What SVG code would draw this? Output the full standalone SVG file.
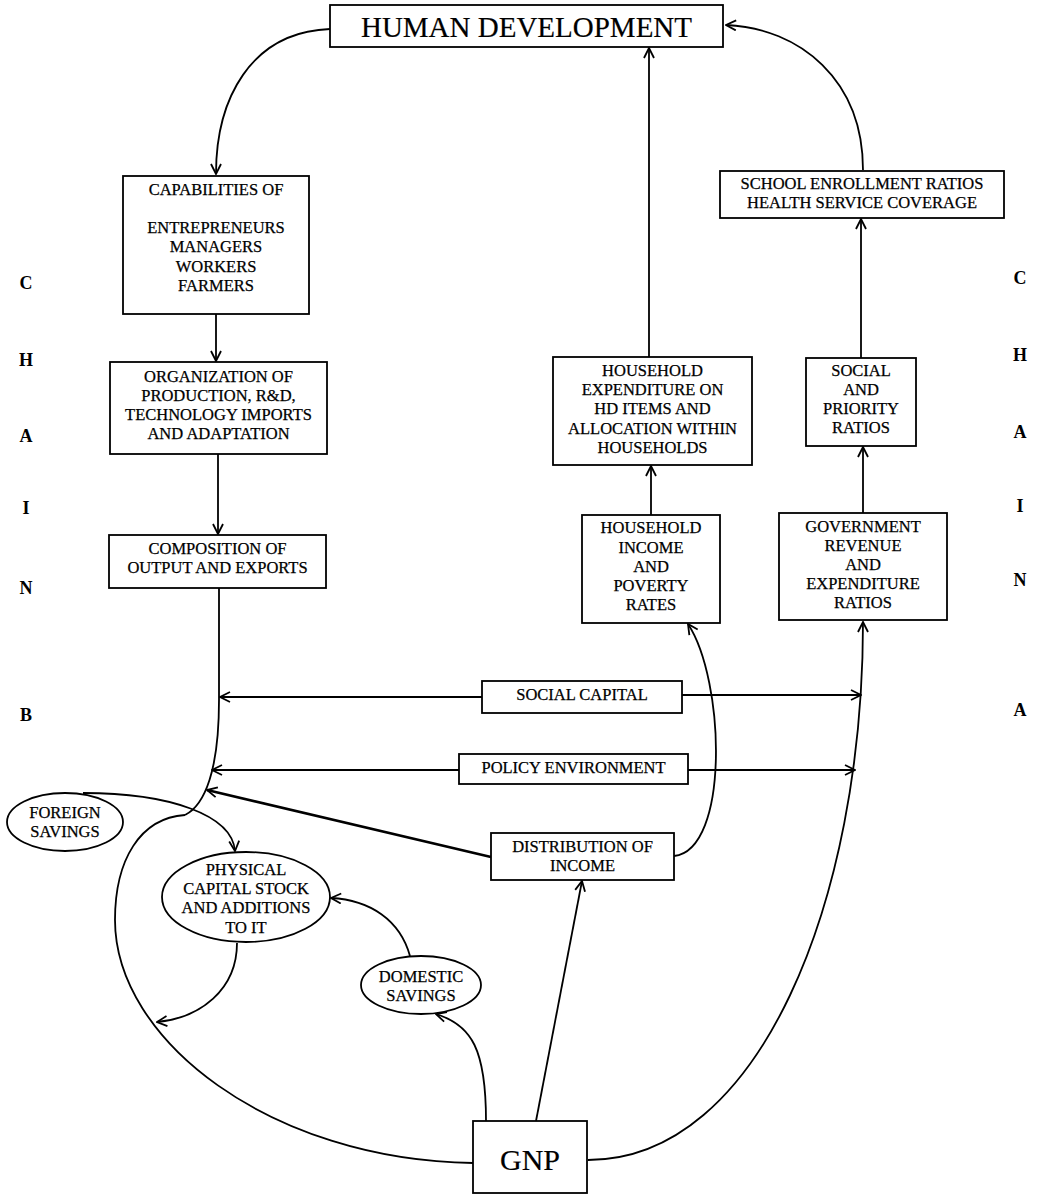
<svg xmlns="http://www.w3.org/2000/svg" width="1039" height="1200" viewBox="0 0 1039 1200">
<style>
.box{fill:#fff;stroke:#000;stroke-width:1.8}
.t{font-family:"Liberation Serif","Times New Roman",serif;font-size:16.5px;text-anchor:middle;fill:#000;stroke:#000;stroke-width:0.25}
.big{font-size:29px;stroke-width:0.2}
.gnp{font-size:30px;stroke-width:0.2}
.ch{font-family:"Liberation Serif","Times New Roman",serif;font-size:18px;font-weight:bold;text-anchor:middle;fill:#000}
.c{fill:none;stroke:#000;stroke-width:1.8}
.a{marker-end:url(#ah)}
</style>
<defs>
<marker id="ah" viewBox="0 0 12 12" refX="11" refY="6" markerWidth="12" markerHeight="12" markerUnits="userSpaceOnUse" orient="auto">
<path d="M1,1 L11,6 L1,11" fill="none" stroke="#000" stroke-width="1.8"/>
</marker>
</defs>

<g id="connectors">
<path class="c a" d="M330,29 C250,32 216,100 216,174"/>
<path class="c a" d="M863,170 C863,80 800,28 726,25"/>
<path class="c a" d="M649,357 L649,48"/>
<path class="c a" d="M216,314 L216,361"/>
<path class="c a" d="M218,454 L218,534"/>
<path class="c a" d="M651,515 L651,466"/>
<path class="c a" d="M863,513 L863,447"/>
<path class="c a" d="M861,358 L861,219"/>
<path class="c" d="M219,588 L219,700 C219,770 205,805 185,815"/>
<path class="c" d="M473,1163 C270,1160 115,1040 115,920 C115,860 140,818 185,815"/>
<path class="c a" d="M482,697 L220,697"/>
<path class="c a" d="M682,695 L861,695"/>
<path class="c a" d="M459,770 L212,770"/>
<path class="c a" d="M688,770 L855,770"/>
<path class="c a" d="M491,857 L207,790" style="stroke-width:2.6"/>
<path class="c a" d="M588,1160 C760,1160 863,900 863,622"/>
<path class="c a" d="M674,856 C730,850 725,680 688,624"/>
<path class="c a" d="M536,1121 L582,881"/>
<path class="c a" d="M486,1121 C486,1050 472,1025 436,1014"/>
<path class="c a" d="M410,956 C400,920 370,900 331,898"/>
<path class="c a" d="M237,943 C237,990 200,1018 157,1022"/>
<path class="c a" d="M83,793 C170,793 232,815 235,851"/>
</g>

<g id="n-hd"><rect class="box" x="330" y="5" width="393" height="42"/><text class="t big" x="526.5" y="37">HUMAN DEVELOPMENT</text></g>

<g id="n-cap"><rect class="box" x="123" y="176" width="186" height="138"/>
<text class="t" x="216" y="195">CAPABILITIES OF</text>
<text class="t" x="216" y="233">ENTREPRENEURS</text>
<text class="t" x="216" y="252">MANAGERS</text>
<text class="t" x="216" y="272">WORKERS</text>
<text class="t" x="216" y="291">FARMERS</text></g>

<g id="n-org"><rect class="box" x="110" y="362" width="217" height="92"/>
<text class="t" x="218.5" y="382">ORGANIZATION OF</text>
<text class="t" x="218.5" y="401">PRODUCTION, R&amp;D,</text>
<text class="t" x="218.5" y="420">TECHNOLOGY IMPORTS</text>
<text class="t" x="218.5" y="439">AND ADAPTATION</text></g>

<g id="n-comp"><rect class="box" x="109" y="535" width="217" height="53"/>
<text class="t" x="217.5" y="554">COMPOSITION OF</text>
<text class="t" x="217.5" y="573">OUTPUT AND EXPORTS</text></g>

<g id="n-school"><rect class="box" x="720" y="171" width="284" height="47"/>
<text class="t" x="862" y="189">SCHOOL ENROLLMENT RATIOS</text>
<text class="t" x="862" y="208">HEALTH SERVICE COVERAGE</text></g>

<g id="n-hexp"><rect class="box" x="553" y="357" width="199" height="108"/>
<text class="t" x="652.5" y="376">HOUSEHOLD</text>
<text class="t" x="652.5" y="395">EXPENDITURE ON</text>
<text class="t" x="652.5" y="414">HD ITEMS AND</text>
<text class="t" x="652.5" y="434">ALLOCATION WITHIN</text>
<text class="t" x="652.5" y="453">HOUSEHOLDS</text></g>

<g id="n-social"><rect class="box" x="806" y="358" width="110" height="88"/>
<text class="t" x="861" y="376">SOCIAL</text>
<text class="t" x="861" y="395">AND</text>
<text class="t" x="861" y="414">PRIORITY</text>
<text class="t" x="861" y="433">RATIOS</text></g>

<g id="n-hinc"><rect class="box" x="582" y="515" width="138" height="108"/>
<text class="t" x="651" y="533">HOUSEHOLD</text>
<text class="t" x="651" y="553">INCOME</text>
<text class="t" x="651" y="572">AND</text>
<text class="t" x="651" y="591">POVERTY</text>
<text class="t" x="651" y="610">RATES</text></g>

<g id="n-gov"><rect class="box" x="779" y="513" width="168" height="107"/>
<text class="t" x="863" y="532">GOVERNMENT</text>
<text class="t" x="863" y="551">REVENUE</text>
<text class="t" x="863" y="570">AND</text>
<text class="t" x="863" y="589">EXPENDITURE</text>
<text class="t" x="863" y="608">RATIOS</text></g>

<g id="n-scap"><rect class="box" x="482" y="681" width="200" height="32"/>
<text class="t" x="582" y="700">SOCIAL CAPITAL</text></g>

<g id="n-policy"><rect class="box" x="459" y="754" width="229" height="30"/>
<text class="t" x="573.5" y="773">POLICY ENVIRONMENT</text></g>

<g id="n-dist"><rect class="box" x="491" y="833" width="183" height="47"/>
<text class="t" x="582.5" y="852">DISTRIBUTION OF</text>
<text class="t" x="582.5" y="871">INCOME</text></g>

<g id="n-foreign"><ellipse class="box" cx="65" cy="822" rx="58" ry="29"/>
<text class="t" x="65" y="818">FOREIGN</text>
<text class="t" x="65" y="837">SAVINGS</text></g>

<g id="n-physical"><ellipse class="box" cx="246" cy="897" rx="84" ry="45"/>
<text class="t" x="246" y="875">PHYSICAL</text>
<text class="t" x="246" y="894">CAPITAL STOCK</text>
<text class="t" x="246" y="913">AND ADDITIONS</text>
<text class="t" x="246" y="933">TO IT</text></g>

<g id="n-domestic"><ellipse class="box" cx="421" cy="985" rx="60" ry="29"/>
<text class="t" x="421" y="982">DOMESTIC</text>
<text class="t" x="421" y="1001">SAVINGS</text></g>

<g id="n-gnp"><rect class="box" x="473" y="1121" width="114" height="72"/>
<text class="t gnp" x="530" y="1170">GNP</text></g>

<g id="chain-left">
<text class="ch" x="26" y="289">C</text>
<text class="ch" x="26" y="366">H</text>
<text class="ch" x="26" y="442">A</text>
<text class="ch" x="26" y="514">I</text>
<text class="ch" x="26" y="594">N</text>
<text class="ch" x="26" y="721">B</text>
</g>
<g id="chain-right">
<text class="ch" x="1020" y="284">C</text>
<text class="ch" x="1020" y="361">H</text>
<text class="ch" x="1020" y="438">A</text>
<text class="ch" x="1020" y="512">I</text>
<text class="ch" x="1020" y="586">N</text>
<text class="ch" x="1020" y="716">A</text>
</g>
</svg>
